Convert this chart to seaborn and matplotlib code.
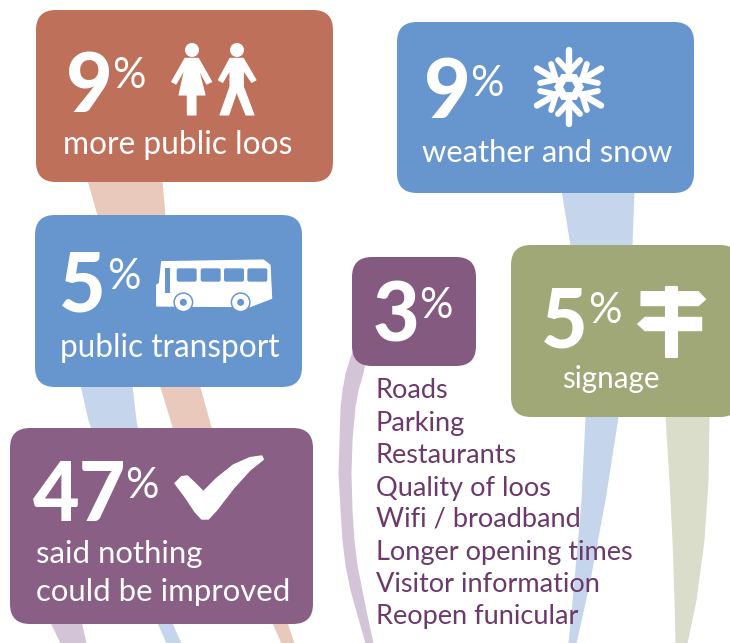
import numpy as np
import seaborn as sns
import matplotlib.pyplot as plt
from matplotlib.patches import FancyBboxPatch, Polygon, Circle, Rectangle

sns.set_theme(style='white')
plt.rcParams['font.family'] = ['Lato', 'DejaVu Sans']

percents = [9, 5, 47, 9, 3, 5]
captions = ['more public loos', 'public transport', 'said nothing\ncould be improved',
            'weather and snow', '', 'signage']
other_items = ['Roads', 'Parking', 'Restaurants', 'Quality of loos', 'Wifi / broadband',
               'Longer opening times', 'Visitor information', 'Reopen funicular']

red, blue, purple, green = '#BE705A', '#6796CF', '#8A5F85', '#A0A878'
red_l, blue_l, purple_l, green_l = '#E9C9BC', '#C5D5EC', '#D3C5D7', '#D9DDC9'
list_col = '#6B3A6B'

fig = plt.figure(figsize=(7.3, 6.43), dpi=100)
ax = fig.add_axes([0, 0, 1, 1])
ax.set_xlim(0, 730)
ax.set_ylim(643, 0)
ax.axis('off')

# ribbons behind the boxes: y, left edge, right edge
ribbons = [
    (red_l, [180, 215, 387, 430, 625, 643], [87, 97, 160, 173, 273, 281], [162, 165, 200, 212, 288, 294]),
    (blue_l, [385, 420, 625, 643], [80, 88, 158, 166], [132, 136, 173, 181]),
    (purple_l, [620, 643], [49, 60], [81, 86]),
    (blue_l, [190, 245, 417, 500, 580, 643], [561, 570, 585, 581, 574, 568], [634, 632, 618, 605, 590, 576]),
    (green_l, [415, 480, 540, 600, 643], [665, 669, 672, 674, 675], [709, 708, 704, 696, 687]),
    (purple_l, [350, 357, 373, 390, 407, 440, 473, 510, 540, 565, 590, 615, 643],
     [353, 350, 345, 342, 340, 339, 338, 340, 342, 345, 350, 357, 365],
     [368, 366, 363, 358, 355, 352, 351, 352, 354, 357, 362, 367, 373]),
]
for col, y, left, right in ribbons:
    ax.fill_betweenx(y, left, right, color=col, lw=0, zorder=1)

# x0, y0, x1, y1
boxes = [(36, 10, 333, 182, red), (35, 215, 302, 387, blue), (10, 428, 313, 624, purple),
         (397, 22, 694, 193, blue), (352, 257, 476, 366, '#855A80'), (511, 245, 740, 417, green)]
for x0, y0, x1, y1, col in boxes:
    ax.add_patch(FancyBboxPatch((x0 + 20, y0 + 20), x1 - x0 - 40, y1 - y0 - 40,
                                boxstyle='round,pad=20,rounding_size=20', fc=col, ec='none', zorder=2))

# number x, baseline, % x, baseline
num_pos = [(66, 112, 112, 88), (59, 312, 107, 289), (33, 521, 125, 498),
           (424, 118, 470, 96), (373, 342, 419, 318), (541, 348, 588, 323)]
# caption x, baseline, font size
cap_pos = [(63, 154, 22.8), (60, 357, 22.7), (36, 563, 22.4), (422, 162, 22.3), None, (562, 388, 21.3)]
line_gap = 38

for i, p in enumerate(percents):
    nx, ny, px, py = num_pos[i]
    ax.text(nx, ny, str(p), color='white', fontsize=58, fontweight='black', va='baseline', zorder=4)
    ax.text(px, py, '%', color='white', fontsize=30, va='baseline', zorder=4)
    if cap_pos[i] is not None:
        cx0, cy0, size = cap_pos[i]
        for j, line in enumerate(captions[i].split('\n')):
            ax.text(cx0, cy0 + j * line_gap, line, color='white', fontsize=size,
                    va='baseline', zorder=4)

list_y = [398, 431, 463, 496, 527, 560, 592, 624]
for item, y in zip(other_items, list_y):
    ax.text(376, y, item, color=list_col, fontsize=19.5, va='baseline', zorder=4)


def shape(pts, ox, oy, lw=0.8):
    pts = np.array(pts) / 3 + [ox, oy]
    ax.add_patch(Polygon(pts, closed=True, fc='white', ec='white', lw=lw, joinstyle='round', zorder=3))


# people
shape([(465, 175), (505, 175), (545, 245), (530, 252), (505, 205), (525, 285), (498, 285), (498, 345),
       (472, 345), (472, 285), (447, 285), (465, 205), (438, 252), (425, 245)], 30, 0)
shape([(600, 175), (640, 175), (678, 240), (665, 247), (640, 210), (640, 260), (672, 345), (648, 345),
       (620, 275), (596, 345), (570, 345), (600, 260), (600, 210), (578, 247), (565, 240)], 30, 0)
ax.add_patch(Circle((192, 50), 7, fc='white', ec='none', zorder=3))
ax.add_patch(Circle((237, 50), 7, fc='white', ec='none', zorder=3))

# bus
shape([(395, 785), (700, 780), (720, 795), (725, 895), (660, 920), (380, 918), (380, 855), (388, 850)], 30, 0)
for wx0, wx1 in [(440, 500), (512, 572), (582, 642), (652, 712)]:
    ax.add_patch(FancyBboxPatch((wx0 / 3 + 31, 805 / 3 + 1), (wx1 - wx0) / 3 - 2, 40 / 3 - 2,
                                boxstyle='round,pad=1,rounding_size=2', fc=blue, ec='none', zorder=3.2))
ax.add_patch(Rectangle((405 / 3 + 30, 805 / 3), 15 / 3, 75 / 3, fc=blue, ec='none', zorder=3.2))
for wx in [460, 632]:
    c = (wx / 3 + 30, 907 / 3)
    ax.add_patch(Circle(c, 10, fc=blue, ec='none', zorder=3.3))
    ax.add_patch(Circle(c, 8.5, fc='white', ec='none', zorder=3.4))
    ax.add_patch(Circle(c, 3.5, fc=blue, ec='none', zorder=3.5))

# signpost
shape([(903, 155), (1075, 155), (1097, 178), (1075, 197), (903, 197)], 340, 240)
shape([(915, 232), (1085, 232), (1085, 272), (915, 272), (893, 252)], 340, 240)
shape([(978, 140), (1010, 140), (1010, 350), (978, 350)], 340, 240, lw=1.5)

# tick
shape([(525, 190), (545, 170), (562, 168), (585, 190), (610, 215), (650, 175), (700, 135), (750, 113),
       (785, 108), (790, 118), (750, 150), (700, 205), (650, 270), (625, 297), (605, 297), (585, 275),
       (555, 230)], 0, 420, lw=1)

# snowflake
cx, cy, r = 569, 87, 37
c = np.array([cx, cy])
for a in np.deg2rad(np.arange(90, 450, 60)):
    d = np.array([np.cos(a), np.sin(a)])
    n = np.array([-d[1], d[0]])
    ax.plot(*zip(c, c + d * r), color='white', lw=4.6, solid_capstyle='round', zorder=3)
    for s in (-1, 1):
        ax.plot(*zip(c + d * 15, c + d * 27 + s * n * 11), color='white', lw=4.2,
                solid_capstyle='round', zorder=3)
star = [c + 15 * np.array([np.cos(t), np.sin(t)]) for t in np.deg2rad(np.arange(0, 360, 60))]
ax.add_patch(Polygon(star, closed=True, fc='white', ec='none', zorder=3))
hole = [c + 6 * np.array([np.cos(t), np.sin(t)]) for t in np.deg2rad(np.arange(0, 360, 60))]
ax.add_patch(Polygon(hole, closed=True, fc=blue, ec='none', zorder=3.1))

fig.savefig('out.png', dpi=100)
